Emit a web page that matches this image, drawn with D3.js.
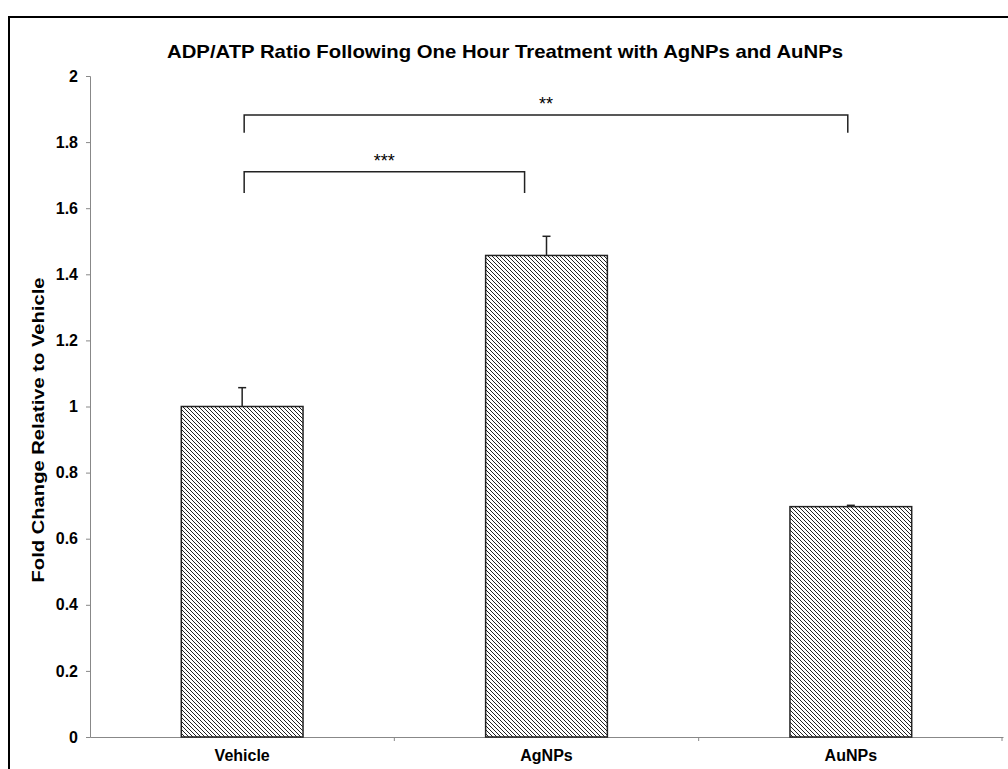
<!DOCTYPE html>
<html>
<head>
<meta charset="utf-8">
<script src="https://cdn.jsdelivr.net/npm/d3@7"></script>
<style>
  body { margin: 0; background: #fff; }
  svg { font-family: "Liberation Sans", Arial, Helvetica, sans-serif; }
</style>
</head>
<body>
<div id="chart"></div>
<script>
const categories = ["Vehicle", "AgNPs", "AuNPs"];
const means = [1.0, 1.457, 0.697];
const errors = [0.057, 0.058, 0.004];
const yTicks = [0, 0.2, 0.4, 0.6, 0.8, 1, 1.2, 1.4, 1.6, 1.8, 2];
// significance brackets: from/to category, top level, leg bottom, label, end shift (fraction of band)
const brackets = [
  { from: "Vehicle", to: "AuNPs", top: 1.882, bottom: 1.828, label: "**", shiftTo: -0.01 },
  { from: "Vehicle", to: "AgNPs", top: 1.710, bottom: 1.646, label: "***", shiftTo: -0.072 }
];

const width = 1008, height = 769;
const margin = { top: 76, right: 5, bottom: 32, left: 90 };

const svg = d3.select("#chart").append("svg")
    .attr("width", width)
    .attr("height", height);

const defs = svg.append("defs");
const pat = defs.append("pattern")
    .attr("id", "hatch")
    .attr("patternUnits", "userSpaceOnUse")
    .attr("width", 4)
    .attr("height", 4);
pat.append("rect").attr("width", 4).attr("height", 4).attr("fill", "#fff");
pat.append("path")
    .attr("d", "M-1,-1 L5,5 M-1,3 L1,5 M3,-1 L5,1")
    .attr("stroke", "#222")
    .attr("stroke-width", 1);

// outer frame
svg.append("rect")
    .attr("x", 9).attr("y", 17)
    .attr("width", 1100).attr("height", 900)
    .attr("fill", "none")
    .attr("stroke", "#000")
    .attr("stroke-width", 2);

const x = d3.scaleBand()
    .domain(categories)
    .range([margin.left, width - margin.right])
    .padding(0);

const y = d3.scaleLinear()
    .domain([0, 2])
    .range([height - margin.bottom, margin.top]);

const barW = x.bandwidth() * 0.4;
const cx = c => x(c) + x.bandwidth() / 2;

// y axis
const yAxis = svg.append("g")
    .attr("transform", `translate(${margin.left},0)`)
    .call(d3.axisLeft(y).tickValues(yTicks).tickSize(4).tickPadding(8).tickFormat(d3.format("~g")));
yAxis.select(".domain").attr("stroke", "#888");
yAxis.selectAll(".tick line").attr("stroke", "#888");
yAxis.selectAll("text")
    .attr("font-size", 16)
    .attr("font-weight", "bold")
    .attr("fill", "#000");

// x axis
const xAxis = svg.append("g")
    .attr("transform", `translate(0,${y(0)})`)
    .call(d3.axisBottom(x).tickSize(0).tickPadding(13));
xAxis.select(".domain").attr("stroke", "#888");
xAxis.selectAll("text")
    .attr("font-size", 16)
    .attr("font-weight", "bold")
    .attr("fill", "#000");
// ticks between categories
xAxis.selectAll(".sep")
    .data(categories.slice(1).concat(["_end"]))
    .join("line")
    .attr("x1", (d, i) => i < categories.length - 1 ? x(d) : x.range()[1] - 1)
    .attr("x2", (d, i) => i < categories.length - 1 ? x(d) : x.range()[1] - 1)
    .attr("y1", 0).attr("y2", 4)
    .attr("stroke", "#888");

// bars
svg.append("g")
    .selectAll("rect")
    .data(categories)
    .join("rect")
    .attr("x", d => cx(d) - barW / 2)
    .attr("y", (d, i) => y(means[i]))
    .attr("width", barW)
    .attr("height", (d, i) => y(0) - y(means[i]))
    .attr("fill", "url(#hatch)")
    .attr("stroke", "#222")
    .attr("stroke-width", 1.5);

// error bars
const eb = svg.append("g").attr("stroke", "#222").attr("stroke-width", 1.5);
categories.forEach((c, i) => {
  eb.append("line")
    .attr("x1", cx(c)).attr("x2", cx(c))
    .attr("y1", y(means[i])).attr("y2", y(means[i] + errors[i]));
  eb.append("line")
    .attr("x1", cx(c) - 4).attr("x2", cx(c) + 4)
    .attr("y1", y(means[i] + errors[i])).attr("y2", y(means[i] + errors[i]));
});

// significance brackets
const br = svg.append("g");
brackets.forEach(b => {
  const x1 = cx(b.from) + 2;
  const x2 = cx(b.to) + b.shiftTo * x.bandwidth();
  br.append("path")
    .attr("d", `M${x1},${y(b.bottom)} V${y(b.top)} H${x2} V${y(b.bottom)}`)
    .attr("fill", "none")
    .attr("stroke", "#222")
    .attr("stroke-width", 1.5);
  br.append("text")
    .attr("x", (x1 + x2) / 2)
    .attr("y", y(b.top) - 5)
    .attr("text-anchor", "middle")
    .attr("font-size", 18)
    .text(b.label);
});

// title
svg.append("text")
    .attr("x", 505)
    .attr("y", 58)
    .attr("text-anchor", "middle")
    .attr("font-size", 19)
    .attr("font-weight", "bold")
    .attr("textLength", 676)
    .attr("lengthAdjust", "spacingAndGlyphs")
    .text("ADP/ATP Ratio Following One Hour Treatment with AgNPs and AuNPs");

// y label
svg.append("text")
    .attr("transform", "rotate(-90)")
    .attr("x", -430)
    .attr("y", 44)
    .attr("text-anchor", "middle")
    .attr("font-size", 17)
    .attr("font-weight", "bold")
    .attr("textLength", 305)
    .attr("lengthAdjust", "spacingAndGlyphs")
    .text("Fold Change Relative to Vehicle");
</script>
</body>
</html>
